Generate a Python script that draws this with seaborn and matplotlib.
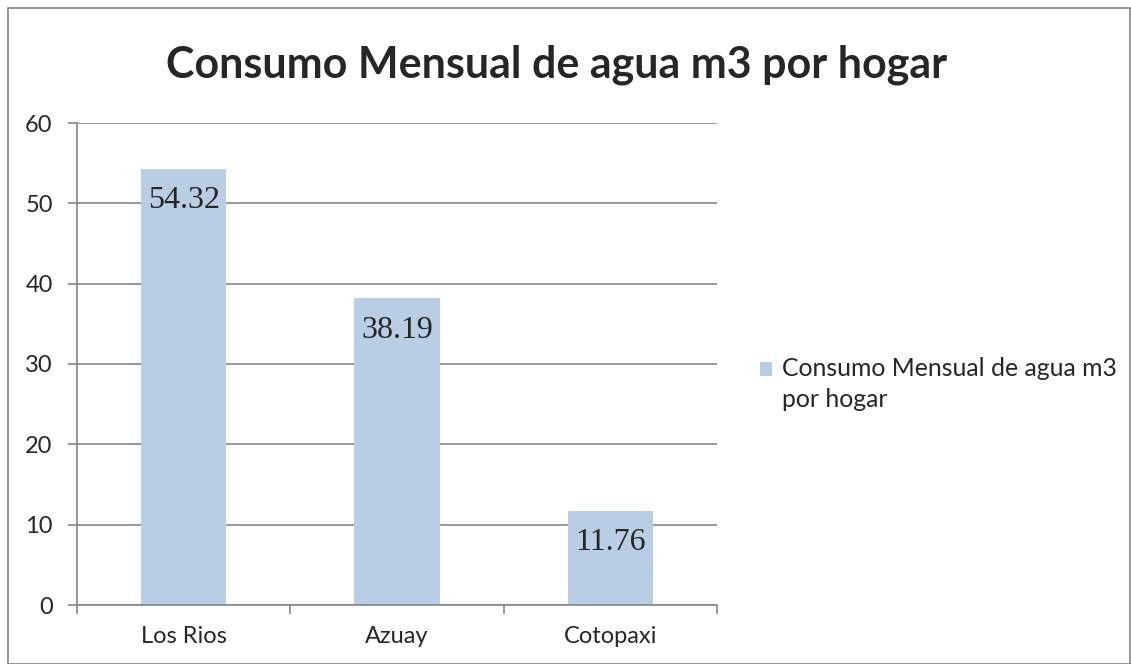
import pandas as pd
import seaborn as sns
import matplotlib.pyplot as plt
from matplotlib.patches import Rectangle, Patch
from matplotlib.legend_handler import HandlerPatch

# datos
provincias = ["Los Rios", "Azuay", "Cotopaxi"]
consumo = [54.32, 38.19, 11.76]
serie = "Consumo Mensual de agua m3 por hogar"
yticks = [0, 10, 20, 30, 40, 50, 60]

df = pd.DataFrame({"provincia": provincias, "consumo": consumo})

sns.set_style("white")
plt.rcParams["font.family"] = ["Lato", "DejaVu Sans"]

azul = "#B9CDE5"
gris = "#868686"

fig = plt.figure(figsize=(11.31, 6.64), dpi=100)
ax = fig.add_axes([77 / 1131, 1 - 605 / 664, 640 / 1131, 482 / 664])

sns.barplot(data=df, x="provincia", y="consumo", color=azul, width=0.4,
            saturation=1, ax=ax, linewidth=0, zorder=2)

ax.set_ylim(0, 60)
ax.set_xlim(-0.5, 2.5)
ax.set_yticks(yticks)
ax.yaxis.grid(True, color=gris, linewidth=1.2, zorder=0)
ax.set_axisbelow(True)
for s in ["top", "right"]:
    ax.spines[s].set_visible(False)
for s in ["left", "bottom"]:
    ax.spines[s].set_color(gris)
    ax.spines[s].set_linewidth(1.2)
ax.tick_params(axis="y", length=6.5, width=1.2, color=gris, labelsize=17, pad=11, left=True)
ax.set_xticks(range(len(provincias)))
ax.set_xticklabels(provincias)
ax.set_xticks([-0.5, 0.5, 1.5, 2.5], minor=True)
ax.tick_params(axis="x", which="major", length=0, labelsize=17, pad=15)
ax.tick_params(axis="x", which="minor", length=6.5, width=1.2, color=gris, bottom=True)
ax.set_xlabel("")
ax.set_ylabel("")

for i, v in enumerate(consumo):
    ax.annotate(f"{v:.2f}", (i, v), xytext=(0, -23), textcoords="offset points",
                ha="center", va="center", fontsize=23, family="Liberation Serif")

fig.suptitle(serie, x=557 / 1131, y=1 - 65 / 664, va="center",
             fontsize=31, fontweight="bold")


# el cuadrito de la leyenda va alineado con la primera linea
def cuadro(legend, orig_handle, xdescent, ydescent, width, height, fontsize):
    return Rectangle((-xdescent, -ydescent + 11.5), width, height)


ax.legend(handles=[Patch(facecolor=azul, edgecolor="none")],
          labels=["Consumo Mensual de agua m3\npor hogar"], loc="center left",
          bbox_to_anchor=(760 / 1131, 1 - 384 / 664), bbox_transform=fig.transFigure,
          frameon=False, fontsize=17.8, handlelength=0.5, handleheight=0.5,
          handletextpad=0.4, borderpad=0, borderaxespad=0,
          handler_map={Patch: HandlerPatch(patch_func=cuadro)})
plt.setp(ax.get_legend().get_texts(), linespacing=1.45)

fig.add_artist(Rectangle((8 / 1131, 0), 1 - 9 / 1131, 1 - 8 / 664,
                         transform=fig.transFigure, fill=False,
                         edgecolor=gris, linewidth=1.2))

fig.savefig("out.png", dpi=100)
